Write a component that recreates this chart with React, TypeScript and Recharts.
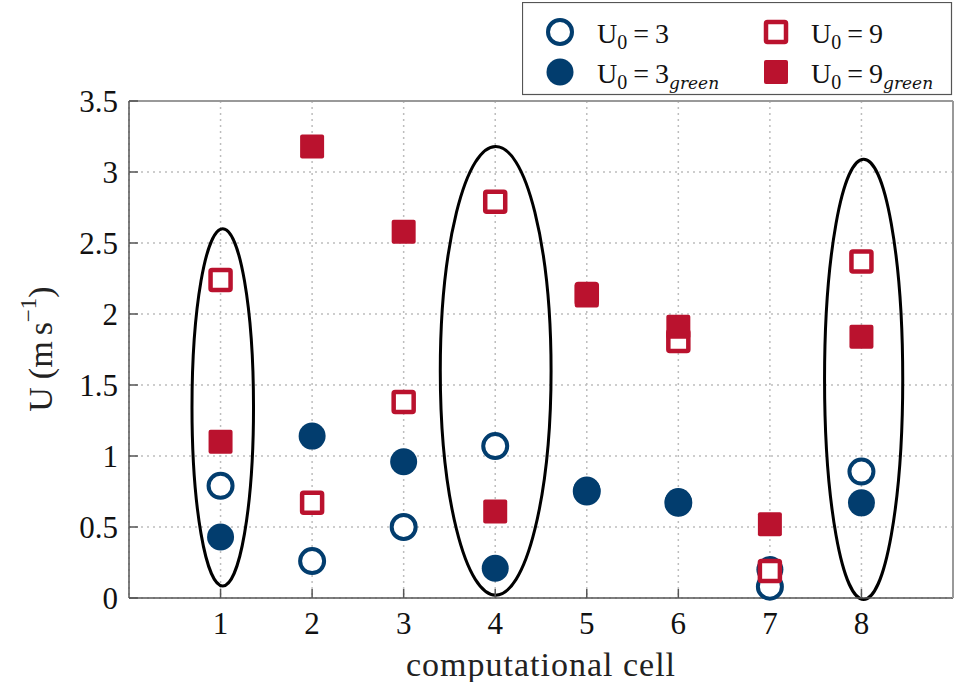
import {
  CartesianGrid,
  Label,
  Legend,
  ReferenceArea,
  Scatter,
  ScatterChart,
  XAxis,
  YAxis,
} from "recharts";

// values
const cells = [1, 2, 3, 4, 5, 6, 7, 8];
const u3 = [0.79, 0.26, 0.5, 1.07, 0.75, 0.67, 0.08, 0.89];
const u3green = [0.43, 1.14, 0.96, 0.21, 0.76, 0.68, 0.2, 0.67];
const u9 = [2.24, 0.67, 1.38, 2.79, 2.14, 1.81, 0.19, 2.37];
const u9green = [1.1, 3.18, 2.58, 0.61, 2.13, 1.91, 0.52, 1.84];

const xTicks = [1, 2, 3, 4, 5, 6, 7, 8];
const yTicks = [0, 0.5, 1, 1.5, 2, 2.5, 3, 3.5];

// highlighted groups (ellipses)
const ellipseCells = [1.024, 4.005, 8.024];
const ellipseHalfWidths = [0.336, 0.605, 0.427];
const ellipseLows = [0.085, 0.02, -0.01];
const ellipseHighs = [2.6, 3.18, 3.09];

const BLUE = "#023d6e";
const RED = "#ba122e";
const FONT = "'Liberation Serif', 'Times New Roman', serif";
const ITALIC_FONT = "'DejaVu Serif', 'Liberation Serif', serif";

const toPoints = (vals: number[]) =>
  cells.map((c, i) => ({ cell: c, u: vals[i] }));

const OpenCircle = (p: any) => (
  <circle cx={p.cx} cy={p.cy} r={12} fill="#fff" stroke={BLUE} strokeWidth={4} />
);
const FilledCircle = (p: any) => (
  <circle cx={p.cx} cy={p.cy} r={13.5} fill={BLUE} />
);
const OpenSquare = (p: any) => (
  <rect
    x={p.cx - 10}
    y={p.cy - 10}
    width={20}
    height={20}
    rx={1.5}
    fill="#fff"
    stroke={RED}
    strokeWidth={4.5}
  />
);
const FilledSquare = (p: any) => (
  <rect x={p.cx - 12} y={p.cy - 12} width={24} height={24} rx={2} fill={RED} />
);

const EllipseShape = (p: any) => (
  <ellipse
    cx={p.x + p.width / 2}
    cy={p.y + p.height / 2}
    rx={p.width / 2}
    ry={p.height / 2}
    fill="none"
    stroke="#000"
    strokeWidth={3}
  />
);

function LegendBox() {
  const main = 28;
  const sub = 20;
  const label = (x: number, y: number, num: string, green: boolean) => (
    <text x={x} y={y} fontFamily={FONT} fontSize={main} fill="#111">
      U
      <tspan fontSize={sub} dy={6}>
        0
      </tspan>
      <tspan dy={-6} dx={6}>
        =
      </tspan>
      <tspan dx={6}>{num}</tspan>
      {green ? (
        <tspan fontFamily={ITALIC_FONT} fontSize={17} fontStyle="italic" dy={6}>
          green
        </tspan>
      ) : null}
    </text>
  );
  return (
    <svg width={431} height={94} style={{ display: "block" }}>
      <rect x={0.5} y={0.5} width={429} height={92} fill="#fff" stroke="#555" strokeWidth={1.2} />
      <circle cx={38} cy={30} r={12} fill="#fff" stroke={BLUE} strokeWidth={4} />
      {label(75, 41, "3", false)}
      <rect x={244} y={20} width={20} height={20} rx={1.5} fill="#fff" stroke={RED} strokeWidth={4.5} />
      {label(289, 41, "9", false)}
      <circle cx={38} cy={70} r={13.5} fill={BLUE} />
      {label(75, 81, "3", true)}
      <rect x={242} y={58} width={24} height={24} rx={2} fill={RED} />
      {label(289, 81, "9", true)}
    </svg>
  );
}

const YTitle = () => {
  const cx = 40;
  const cy = 349;
  return (
    <text
      x={cx}
      y={cy}
      transform={`rotate(-90 ${cx} ${cy})`}
      textAnchor="middle"
      fontFamily={FONT}
      fontSize={34}
      fill="#222"
      dominantBaseline="central"
    >
      U
      <tspan dx={8}>(m</tspan>
      <tspan dx={6}>s</tspan>
      <tspan fontSize={23} dy={-12}>
        −1
      </tspan>
      <tspan dy={12}>)</tspan>
    </text>
  );
};

const XTitle = (props: any) => {
  const vb = props.viewBox || {};
  return (
    <text
      x={vb.x + vb.width / 2}
      y={676}
      textAnchor="middle"
      fontFamily={FONT}
      fontSize={34}
      letterSpacing={1}
      fill="#222"
    >
      computational cell
    </text>
  );
};

export default function App() {
  const tickStyle = { fontFamily: FONT, fontSize: 31, fill: "#111" };
  return (
    <div style={{ position: "absolute", left: 0, top: 0, background: "#fff" }}>
      <ScatterChart
        width={955}
        height={682}
        margin={{ top: 100, right: 1, bottom: 0, left: 0 }}
      >
        <CartesianGrid stroke="#bdbdbd" strokeDasharray="2 4" strokeWidth={1.5} />
        <XAxis
          dataKey="cell"
          type="number"
          domain={[0, 9]}
          ticks={xTicks}
          height={84}
          tickSize={-9}
          tickMargin={23}
          tick={tickStyle}
          axisLine={{ stroke: "#555", strokeWidth: 1.5 }}
          tickLine={{ stroke: "#555", strokeWidth: 1.5 }}
        >
          <Label content={XTitle} />
        </XAxis>
        <XAxis
          xAxisId="top"
          orientation="top"
          dataKey="cell"
          type="number"
          domain={[0, 9]}
          ticks={xTicks}
          height={1}
          tick={false}
          tickLine={false}
          axisLine={{ stroke: "#999", strokeWidth: 2 }}
        />
        <YAxis
          dataKey="u"
          type="number"
          domain={[0, 3.5]}
          ticks={yTicks}
          width={129}
          tickSize={-9}
          tickMargin={20}
          tick={tickStyle}
          axisLine={{ stroke: "#555", strokeWidth: 1.5 }}
          tickLine={{ stroke: "#555", strokeWidth: 1.5 }}
        >
          <Label content={YTitle} />
        </YAxis>
        <YAxis
          yAxisId="right"
          orientation="right"
          dataKey="u"
          type="number"
          domain={[0, 3.5]}
          ticks={yTicks}
          width={1}
          tickSize={-9}
          tickFormatter={() => ""}
          axisLine={{ stroke: "#999", strokeWidth: 2 }}
          tickLine={{ stroke: "#888", strokeWidth: 1.5 }}
        />
        <Scatter name="U0=3" data={toPoints(u3)} shape={OpenCircle} isAnimationActive={false} />
        <Scatter name="U0=3green" data={toPoints(u3green)} shape={FilledCircle} isAnimationActive={false} />
        <Scatter name="U0=9" data={toPoints(u9)} shape={OpenSquare} isAnimationActive={false} />
        <Scatter name="U0=9green" data={toPoints(u9green)} shape={FilledSquare} isAnimationActive={false} />
        {ellipseCells.map((c, i) => (
          <ReferenceArea
            key={i}
            x1={c - ellipseHalfWidths[i]}
            x2={c + ellipseHalfWidths[i]}
            y1={ellipseLows[i]}
            y2={ellipseHighs[i]}
            ifOverflow="visible"
            shape={EllipseShape}
          />
        ))}
        <Legend
          layout="horizontal"
          verticalAlign="middle"
          align="center"
          wrapperStyle={{ left: 522, top: 2, width: 431, height: 94 }}
          content={() => <LegendBox />}
        />
      </ScatterChart>
    </div>
  );
}
